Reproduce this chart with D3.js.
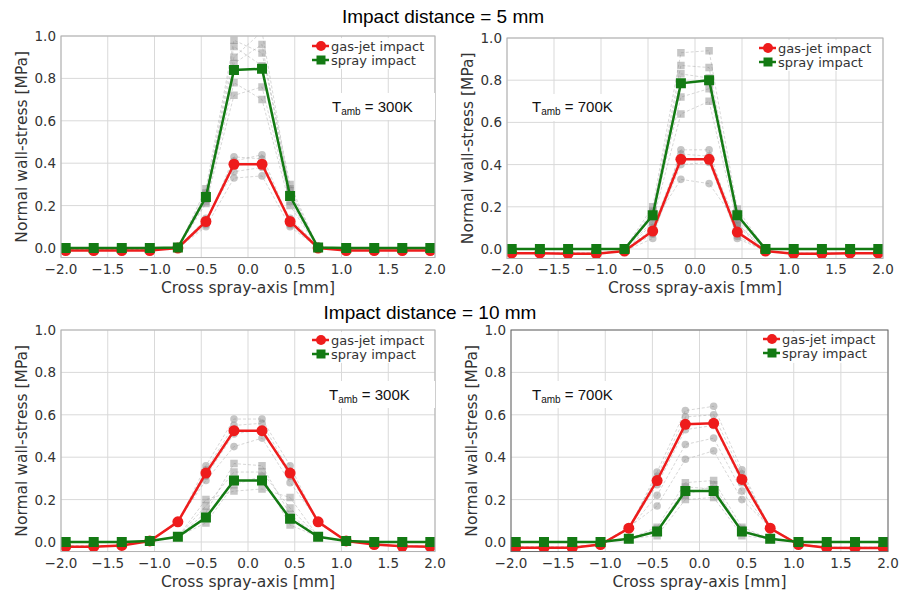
<!DOCTYPE html>
<html>
<head>
<meta charset="utf-8">
<script src="https://cdn.jsdelivr.net/npm/d3@7"></script>
<style>
  body { margin: 0; background: #fff; }
  svg { display: block; }
</style>
</head>
<body>
<svg id="chart"></svg>
<script>
//Data
var xPos = [-1.95, -1.65, -1.35, -1.05, -0.75, -0.45, -0.15, 0.15, 0.45, 0.75, 1.05, 1.35, 1.65, 1.95];
var xTicks = [-2, -1.5, -1, -0.5, 0, 0.5, 1, 1.5, 2];
var yTicks = [0, 0.2, 0.4, 0.6, 0.8, 1.0];
var titles = ["Impact distance = 5 mm", "Impact distance = 10 mm"];
var tempLabels = ["300K", "700K", "300K", "700K"];
var seriesNames = ["gas-jet impact", "spray impact"];

//5 mm, 300K
var gasTL = [-0.012, -0.012, -0.012, -0.012, 0.0, 0.125, 0.395, 0.395, 0.125, 0.0, -0.012, -0.012, -0.012, -0.012];
var sprayTL = [0, 0, 0, 0, 0.002, 0.24, 0.84, 0.845, 0.245, 0.002, 0, 0, 0, 0];
//5 mm, 700K
var gasTR = [-0.02, -0.02, -0.022, -0.022, -0.01, 0.085, 0.425, 0.425, 0.08, -0.01, -0.022, -0.022, -0.02, -0.02];
var sprayTR = [0, 0, 0, 0, 0, 0.16, 0.785, 0.8, 0.16, 0, 0, 0, 0, 0];
//10 mm, 300K
var gasBL = [-0.022, -0.022, -0.016, 0.005, 0.095, 0.325, 0.525, 0.525, 0.325, 0.095, 0.005, -0.012, -0.02, -0.022];
var sprayBL = [0, 0, 0, 0.005, 0.025, 0.115, 0.29, 0.29, 0.11, 0.025, 0.005, 0, 0, 0];
//10 mm, 700K
var gasBR = [-0.027, -0.027, -0.027, -0.012, 0.065, 0.29, 0.555, 0.56, 0.295, 0.065, -0.012, -0.027, -0.028, -0.028];
var sprayBR = [0, 0, 0, 0, 0.015, 0.05, 0.24, 0.24, 0.05, 0.015, 0, 0, 0, 0];

//Faint individual runs behind the means
var grayGasTL = [
  [-0.01, -0.01, -0.01, -0.01, 0, 0.11, 0.43, 0.42, 0.11, 0, -0.01, -0.01, -0.01, -0.01],
  [-0.01, -0.01, -0.01, -0.01, 0, 0.14, 0.36, 0.38, 0.14, 0.01, -0.01, -0.01, -0.01, -0.01],
  [-0.01, -0.01, -0.01, -0.01, 0, 0.10, 0.33, 0.34, 0.10, 0, -0.01, -0.01, -0.01, -0.01],
  [-0.01, -0.01, -0.01, -0.01, 0, 0.13, 0.41, 0.44, 0.12, 0, -0.01, -0.01, -0.01, -0.01],
  [-0.01, -0.01, -0.01, -0.01, 0, 0.12, 0.39, 0.40, 0.13, 0, -0.01, -0.01, -0.01, -0.01]
];
var graySprayTL = [
  [0, 0, 0, 0, 0, 0.28, 0.98, 0.92, 0.30, 0, 0, 0, 0, 0],
  [0, 0, 0, 0, 0, 0.21, 0.72, 0.76, 0.22, 0, 0, 0, 0, 0],
  [0, 0, 0, 0, 0, 0.26, 0.90, 1.02, 0.27, 0, 0, 0, 0, 0],
  [0, 0, 0, 0, 0, 0.22, 0.78, 0.70, 0.20, 0, 0, 0, 0, 0],
  [0, 0, 0, 0, 0, 0.25, 0.95, 0.86, 0.28, 0, 0, 0, 0, 0],
  [0, 0, 0, 0, 0, 0.23, 0.87, 0.96, 0.25, 0, 0, 0, 0, 0]
];
var grayGasTR = [
  [-0.02, -0.02, -0.02, -0.02, -0.01, 0.05, 0.47, 0.47, 0.05, -0.01, -0.02, -0.02, -0.02, -0.02],
  [-0.02, -0.02, -0.02, -0.02, -0.01, 0.12, 0.33, 0.31, 0.12, -0.01, -0.02, -0.02, -0.02, -0.02],
  [-0.02, -0.02, -0.02, -0.02, -0.01, 0.07, 0.40, 0.41, 0.06, -0.01, -0.02, -0.02, -0.02, -0.02],
  [-0.02, -0.02, -0.02, -0.02, -0.01, 0.10, 0.45, 0.44, 0.11, -0.01, -0.02, -0.02, -0.02, -0.02]
];
var graySprayTR = [
  [0, 0, 0, 0, 0, 0.20, 0.93, 0.94, 0.19, 0, 0, 0, 0, 0],
  [0, 0, 0, 0, 0, 0.13, 0.64, 0.70, 0.12, 0, 0, 0, 0, 0],
  [0, 0, 0, 0, 0, 0.18, 0.87, 0.86, 0.17, 0, 0, 0, 0, 0],
  [0, 0, 0, 0, 0, 0.15, 0.72, 0.76, 0.14, 0, 0, 0, 0, 0],
  [0, 0, 0, 0, 0, 0.17, 0.83, 0.81, 0.16, 0, 0, 0, 0, 0]
];
var grayGasBL = [
  [-0.02, -0.02, -0.015, 0.005, 0.09, 0.36, 0.58, 0.58, 0.36, 0.09, 0.005, -0.01, -0.02, -0.02],
  [-0.02, -0.02, -0.015, 0.005, 0.10, 0.29, 0.45, 0.49, 0.28, 0.10, 0.005, -0.01, -0.02, -0.02],
  [-0.02, -0.02, -0.015, 0.005, 0.09, 0.34, 0.55, 0.56, 0.33, 0.09, 0.005, -0.01, -0.02, -0.02],
  [-0.02, -0.02, -0.015, 0.005, 0.09, 0.31, 0.51, 0.53, 0.31, 0.09, 0.005, -0.01, -0.02, -0.02]
];
var graySprayBL = [
  [0, 0, 0, 0.005, 0.025, 0.14, 0.37, 0.36, 0.13, 0.025, 0.005, 0, 0, 0],
  [0, 0, 0, 0.005, 0.025, 0.20, 0.24, 0.25, 0.21, 0.025, 0.005, 0, 0, 0],
  [0, 0, 0, 0.005, 0.025, 0.09, 0.27, 0.31, 0.08, 0.025, 0.005, 0, 0, 0],
  [0, 0, 0, 0.005, 0.025, 0.17, 0.33, 0.33, 0.16, 0.025, 0.005, 0, 0, 0]
];
var grayGasBR = [
  [-0.025, -0.025, -0.025, -0.01, 0.06, 0.33, 0.62, 0.64, 0.34, 0.06, -0.01, -0.025, -0.025, -0.025],
  [-0.025, -0.025, -0.025, -0.01, 0.07, 0.17, 0.39, 0.43, 0.20, 0.07, -0.01, -0.025, -0.025, -0.025],
  [-0.025, -0.025, -0.025, -0.01, 0.06, 0.22, 0.46, 0.49, 0.24, 0.06, -0.01, -0.025, -0.025, -0.025],
  [-0.025, -0.025, -0.025, -0.01, 0.07, 0.31, 0.59, 0.60, 0.32, 0.07, -0.01, -0.025, -0.025, -0.025],
  [-0.025, -0.025, -0.025, -0.01, 0.065, 0.27, 0.53, 0.55, 0.28, 0.065, -0.01, -0.025, -0.025, -0.025]
];
var graySprayBR = [
  [0, 0, 0, 0, 0.015, 0.07, 0.28, 0.29, 0.07, 0.015, 0, 0, 0, 0],
  [0, 0, 0, 0, 0.015, 0.03, 0.20, 0.21, 0.03, 0.015, 0, 0, 0, 0],
  [0, 0, 0, 0, 0.015, 0.05, 0.26, 0.25, 0.06, 0.015, 0, 0, 0, 0],
  [0, 0, 0, 0, 0.015, 0.06, 0.22, 0.27, 0.05, 0.015, 0, 0, 0, 0]
];

//Layout of the four panels (pixel boxes)
var panels = [
  {x0: 61, x1: 435, yTop: 36, yZero: 248, gas: gasTL, spray: sprayTL, gg: grayGasTL, gs: graySprayTL, temp: tempLabels[0], tx: 332, ty: 112, box: [313, 93, 122, 27], legX: 321, legY: 46, frame: "#b0b0b0"},
  {x0: 507, x1: 883, yTop: 38, yZero: 249, gas: gasTR, spray: sprayTR, gg: grayGasTR, gs: graySprayTR, temp: tempLabels[1], tx: 532, ty: 112, box: [520, 94, 112, 27], legX: 768, legY: 48, frame: "#b0b0b0"},
  {x0: 61, x1: 435, yTop: 330, yZero: 542, gas: gasBL, spray: sprayBL, gg: grayGasBL, gs: graySprayBL, temp: tempLabels[2], tx: 329, ty: 400, box: [313, 381, 122, 27], legX: 321, legY: 340, frame: "#b0b0b0"},
  {x0: 511, x1: 888, yTop: 330, yZero: 542, gas: gasBR, spray: sprayBR, gg: grayGasBR, gs: graySprayBR, temp: tempLabels[3], tx: 532, ty: 400, box: [520, 381, 112, 27], legX: 772, legY: 339, frame: "#666"}
];

var width = 900, height = 591;
var red = "#ee1c1c", green = "#137a13";
var tickFont = "DejaVu Sans, sans-serif";

var svg = d3.select("#chart")
            .attr("width", width)
            .attr("height", height)
            .style("font-family", tickFont);

//Section titles
svg.append("text")
    .attr("x", 443).attr("y", 23)
    .attr("text-anchor", "middle")
    .style("font-family", "Liberation Sans, Arial, sans-serif")
    .style("font-size", "19px")
    .text(titles[0]);
svg.append("text")
    .attr("x", 430).attr("y", 319)
    .attr("text-anchor", "middle")
    .style("font-family", "Liberation Sans, Arial, sans-serif")
    .style("font-size", "19px")
    .text(titles[1]);

function squarePath(x, y, s) {
    return "M" + (x - s / 2) + "," + (y - s / 2) + "h" + s + "v" + s + "h" + (-s) + "Z";
}

panels.forEach(function(p, pi) {
    var bottom = p.yZero + 0.045 * (p.yZero - p.yTop);

    var xScale = d3.scaleLinear().domain([-2, 2]).range([p.x0, p.x1]);
    var yScale = d3.scaleLinear().domain([0, 1]).range([p.yZero, p.yTop]);

    var g = svg.append("g");

    //Clip to the plot box
    var clipId = "clip" + pi;
    svg.append("clipPath").attr("id", clipId)
        .append("rect")
        .attr("x", p.x0).attr("y", p.yTop)
        .attr("width", p.x1 - p.x0).attr("height", bottom - p.yTop);

    //Grid
    g.selectAll(".gx").data(xTicks).join("line")
        .attr("x1", function(d){ return xScale(d); })
        .attr("x2", function(d){ return xScale(d); })
        .attr("y1", p.yTop).attr("y2", bottom)
        .attr("stroke", "#d9d9d9").attr("stroke-width", 1);
    g.selectAll(".gy").data(yTicks).join("line")
        .attr("x1", p.x0).attr("x2", p.x1)
        .attr("y1", function(d){ return yScale(d); })
        .attr("y2", function(d){ return yScale(d); })
        .attr("stroke", "#d9d9d9").attr("stroke-width", 1);

    var data = g.append("g").attr("clip-path", "url(#" + clipId + ")");

    var line = d3.line()
        .x(function(d, i){ return xScale(xPos[i]); })
        .y(function(d){ return yScale(d); });

    //Faint runs
    function drawGray(traces, shape) {
        traces.forEach(function(t) {
            data.append("path")
                .attr("d", line(t))
                .attr("fill", "none")
                .attr("stroke", "#9a9a9a")
                .attr("stroke-opacity", 0.5)
                .attr("stroke-width", 0.8)
                .attr("stroke-dasharray", "3,2");
            if (shape === "circle") {
                data.selectAll(null).data(t).join("circle")
                    .attr("cx", function(d, i){ return xScale(xPos[i]); })
                    .attr("cy", function(d){ return yScale(d); })
                    .attr("r", 3.8)
                    .attr("fill", "#808080")
                    .attr("fill-opacity", 0.45);
            } else {
                data.selectAll(null).data(t).join("path")
                    .attr("d", function(d, i){ return squarePath(xScale(xPos[i]), yScale(d), 7.5); })
                    .attr("fill", "#808080")
                    .attr("fill-opacity", 0.45);
            }
        });
    }
    drawGray(p.gg, "circle");
    drawGray(p.gs, "square");

    //Means
    data.append("path")
        .attr("d", line(p.gas))
        .attr("fill", "none").attr("stroke", red).attr("stroke-width", 2.5);
    data.selectAll(null).data(p.gas).join("circle")
        .attr("cx", function(d, i){ return xScale(xPos[i]); })
        .attr("cy", function(d){ return yScale(d); })
        .attr("r", 5.5)
        .attr("fill", red);

    data.append("path")
        .attr("d", line(p.spray))
        .attr("fill", "none").attr("stroke", green).attr("stroke-width", 2.5);
    data.selectAll(null).data(p.spray).join("path")
        .attr("d", function(d, i){ return squarePath(xScale(xPos[i]), yScale(d), 10); })
        .attr("fill", green);

    //Frame
    g.append("rect")
        .attr("x", p.x0).attr("y", p.yTop)
        .attr("width", p.x1 - p.x0).attr("height", bottom - p.yTop)
        .attr("fill", "none").attr("stroke", p.frame).attr("stroke-width", 1);

    //Tick labels
    g.selectAll(".xt").data(xTicks).join("text")
        .attr("x", function(d){ return xScale(d); })
        .attr("y", bottom + 16)
        .attr("text-anchor", "middle")
        .style("font-size", "13.5px")
        .attr("fill", "#333")
        .text(function(d){ return d3.format(".1f")(d).replace("-", "\u2212"); });
    g.selectAll(".yt").data(yTicks).join("text")
        .attr("x", p.x0 - 5)
        .attr("y", function(d){ return yScale(d) + 5; })
        .attr("text-anchor", "end")
        .style("font-size", "13.5px")
        .attr("fill", "#333")
        .text(function(d){ return d3.format(".1f")(d); });

    //Axis titles
    g.append("text")
        .attr("x", (p.x0 + p.x1) / 2)
        .attr("y", bottom + 35)
        .attr("text-anchor", "middle")
        .style("font-size", "15.5px")
        .attr("fill", "#333")
        .text("Cross spray-axis [mm]");
    g.append("text")
        .attr("transform", "translate(" + (p.x0 - 34) + "," + ((p.yTop + bottom) / 2) + ") rotate(-90)")
        .attr("text-anchor", "middle")
        .style("font-size", "15.5px")
        .attr("fill", "#333")
        .text("Normal wall-stress [MPa]");

    //Legend
    var leg = g.append("g");
    leg.append("rect")
        .attr("x", p.legX - 12).attr("y", p.yTop + 2)
        .attr("width", p.x1 - p.legX + 10).attr("height", 31)
        .attr("fill", "#fff").attr("fill-opacity", 0.85);
    [[red, "circle"], [green, "square"]].forEach(function(s, i) {
        var ly = p.legY + i * 14;
        leg.append("line")
            .attr("x1", p.legX - 9).attr("x2", p.legX + 8)
            .attr("y1", ly).attr("y2", ly)
            .attr("stroke", s[0]).attr("stroke-width", 2.5);
        if (s[1] === "circle") {
            leg.append("circle").attr("cx", p.legX).attr("cy", ly).attr("r", 5).attr("fill", s[0]);
        } else {
            leg.append("path").attr("d", squarePath(p.legX, ly, 9)).attr("fill", s[0]);
        }
        leg.append("text")
            .attr("x", p.legX + 10).attr("y", ly + 4.5)
            .style("font-size", "13px")
            .attr("fill", "#333")
            .text(seriesNames[i]);
    });

    //Temperature label
    g.append("rect")
        .attr("x", p.box[0]).attr("y", p.box[1])
        .attr("width", p.box[2]).attr("height", p.box[3])
        .attr("fill", "#fff");
    var t = g.append("text")
        .attr("x", p.tx).attr("y", p.ty)
        .style("font-family", "Liberation Sans, Arial, sans-serif")
        .style("font-size", "15px")
        .attr("fill", "#111");
    t.append("tspan").text("T");
    t.append("tspan").attr("dy", 3).style("font-size", "10px").text("amb");
    t.append("tspan").attr("dy", -3).text(" = " + p.temp);
});
</script>
</body>
</html>
